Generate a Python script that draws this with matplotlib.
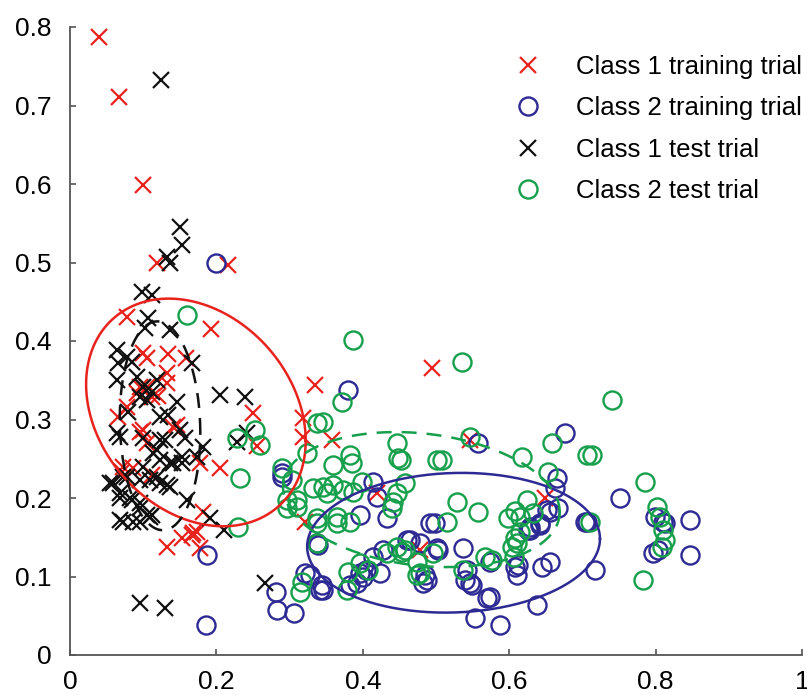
import numpy as np
import matplotlib
matplotlib.use("Agg")
import matplotlib.pyplot as plt

plt.rcParams['font.family'] = ['Liberation Sans', 'DejaVu Sans']

# Class 1 training trials (red x)
class1_train = [
    (0.040, 0.787), (0.067, 0.711), (0.100, 0.599), (0.119, 0.499), (0.216, 0.497),
    (0.078, 0.431), (0.192, 0.415), (0.100, 0.385), (0.105, 0.378), (0.134, 0.383),
    (0.158, 0.378), (0.132, 0.346), (0.335, 0.344), (0.250, 0.308), (0.318, 0.302),
    (0.318, 0.278), (0.255, 0.266), (0.205, 0.238), (0.066, 0.303), (0.096, 0.284),
    (0.141, 0.290), (0.105, 0.270), (0.178, 0.245), (0.073, 0.240), (0.105, 0.341),
    (0.112, 0.329), (0.091, 0.334), (0.495, 0.366), (0.358, 0.274), (0.546, 0.274),
    (0.419, 0.206), (0.321, 0.169), (0.182, 0.182), (0.168, 0.155), (0.086, 0.238),
    (0.112, 0.229), (0.132, 0.138), (0.153, 0.149), (0.167, 0.153), (0.173, 0.157),
    (0.178, 0.136), (0.649, 0.200), (0.478, 0.134), (0.132, 0.359), (0.096, 0.341),
    (0.078, 0.316), (0.146, 0.293), (0.100, 0.287), (0.120, 0.330), (0.071, 0.233),
]

# Class 2 training trials (blue o)
class2_train = [
    (0.200, 0.499), (0.290, 0.232), (0.380, 0.338), (0.290, 0.227), (0.414, 0.220),
    (0.419, 0.201), (0.396, 0.178), (0.433, 0.174), (0.492, 0.168), (0.499, 0.168),
    (0.557, 0.270), (0.676, 0.283), (0.665, 0.225), (0.663, 0.213), (0.667, 0.187),
    (0.651, 0.185), (0.642, 0.168), (0.628, 0.159), (0.703, 0.169), (0.751, 0.200),
    (0.799, 0.176), (0.810, 0.169), (0.847, 0.172), (0.813, 0.168), (0.797, 0.130),
    (0.803, 0.134), (0.847, 0.127), (0.717, 0.108), (0.656, 0.182), (0.642, 0.166),
    (0.626, 0.159), (0.656, 0.119), (0.645, 0.112), (0.612, 0.115), (0.611, 0.102),
    (0.638, 0.064), (0.574, 0.074), (0.587, 0.038), (0.553, 0.047), (0.549, 0.089),
    (0.540, 0.096), (0.537, 0.136), (0.574, 0.119), (0.464, 0.146), (0.503, 0.134),
    (0.485, 0.102), (0.482, 0.092), (0.478, 0.143), (0.187, 0.127), (0.186, 0.038),
    (0.281, 0.080), (0.283, 0.057), (0.306, 0.054), (0.344, 0.089), (0.346, 0.083),
    (0.337, 0.143), (0.328, 0.102), (0.392, 0.092), (0.400, 0.099), (0.405, 0.108),
    (0.414, 0.125), (0.460, 0.146), (0.428, 0.134), (0.339, 0.140), (0.321, 0.104),
    (0.342, 0.083), (0.383, 0.089), (0.396, 0.104), (0.423, 0.104), (0.488, 0.096),
    (0.501, 0.136), (0.542, 0.108), (0.546, 0.092), (0.570, 0.072), (0.608, 0.112),
    (0.628, 0.163), (0.706, 0.169),
]

# Class 1 test trials (black x)
class1_test = [
    (0.124, 0.732), (0.150, 0.545), (0.153, 0.522), (0.137, 0.499), (0.132, 0.507),
    (0.098, 0.462), (0.112, 0.459), (0.107, 0.429), (0.102, 0.417), (0.137, 0.414),
    (0.064, 0.389), (0.078, 0.380), (0.085, 0.373), (0.066, 0.372), (0.167, 0.372),
    (0.064, 0.350), (0.091, 0.354), (0.119, 0.350), (0.100, 0.341), (0.096, 0.329),
    (0.112, 0.335), (0.105, 0.325), (0.205, 0.331), (0.239, 0.329), (0.146, 0.322),
    (0.079, 0.310), (0.123, 0.303), (0.134, 0.306), (0.064, 0.283), (0.068, 0.278),
    (0.100, 0.276), (0.150, 0.287), (0.157, 0.276), (0.182, 0.265), (0.228, 0.271),
    (0.242, 0.283), (0.130, 0.274), (0.119, 0.261), (0.153, 0.252), (0.141, 0.245),
    (0.123, 0.248), (0.072, 0.227), (0.059, 0.219), (0.078, 0.227), (0.096, 0.223),
    (0.119, 0.227), (0.132, 0.217), (0.153, 0.245), (0.068, 0.200), (0.085, 0.197),
    (0.096, 0.187), (0.105, 0.178), (0.072, 0.169), (0.086, 0.169), (0.096, 0.169),
    (0.112, 0.178), (0.160, 0.197), (0.191, 0.175), (0.210, 0.159), (0.266, 0.092),
    (0.096, 0.066), (0.130, 0.060), (0.113, 0.257), (0.100, 0.240), (0.109, 0.223),
    (0.123, 0.219), (0.137, 0.214), (0.068, 0.206), (0.082, 0.200), (0.096, 0.194),
    (0.068, 0.172), (0.109, 0.176), (0.173, 0.252), (0.137, 0.245), (0.123, 0.274),
    (0.055, 0.219),
]

# Class 2 test trials (green o)
class2_test = [
    (0.160, 0.433), (0.228, 0.276), (0.253, 0.287), (0.260, 0.268), (0.324, 0.257),
    (0.337, 0.296), (0.232, 0.225), (0.387, 0.401), (0.536, 0.373), (0.372, 0.322),
    (0.346, 0.297), (0.303, 0.223), (0.359, 0.242), (0.383, 0.255), (0.385, 0.245),
    (0.447, 0.270), (0.448, 0.251), (0.452, 0.248), (0.501, 0.248), (0.508, 0.248),
    (0.546, 0.278), (0.332, 0.213), (0.346, 0.214), (0.359, 0.217), (0.351, 0.207),
    (0.373, 0.210), (0.387, 0.208), (0.399, 0.220), (0.296, 0.197), (0.310, 0.197),
    (0.310, 0.188), (0.297, 0.187), (0.337, 0.175), (0.365, 0.176), (0.383, 0.169),
    (0.441, 0.195), (0.447, 0.206), (0.458, 0.219), (0.440, 0.187), (0.529, 0.195),
    (0.557, 0.182), (0.515, 0.169), (0.230, 0.163), (0.337, 0.143), (0.317, 0.093),
    (0.314, 0.080), (0.380, 0.106), (0.378, 0.083), (0.396, 0.117), (0.407, 0.108),
    (0.433, 0.130), (0.447, 0.138), (0.453, 0.131), (0.474, 0.118), (0.478, 0.104),
    (0.496, 0.130), (0.337, 0.168), (0.365, 0.168), (0.658, 0.270), (0.706, 0.255),
    (0.617, 0.252), (0.653, 0.233), (0.624, 0.197), (0.598, 0.175), (0.615, 0.176),
    (0.615, 0.157), (0.611, 0.143), (0.604, 0.138), (0.567, 0.125), (0.576, 0.121),
    (0.537, 0.108), (0.740, 0.325), (0.713, 0.255), (0.786, 0.220), (0.802, 0.189),
    (0.806, 0.176), (0.810, 0.159), (0.813, 0.146), (0.809, 0.138), (0.783, 0.096),
    (0.710, 0.169), (0.608, 0.183), (0.633, 0.181), (0.608, 0.149), (0.607, 0.125),
    (0.474, 0.102), (0.457, 0.134), (0.290, 0.238),
]

# covariance ellipses: center x, center y, half-width x, half-height y, cross term
ell_class1_train = (0.172, 0.309, 0.150, 0.145, -0.0054)
ell_class1_test = (0.123, 0.292, 0.055, 0.133, -0.0005)
ell_class2_train = (0.524, 0.143, 0.200, 0.089, 0.0010)
ell_class2_test = (0.480, 0.198, 0.189, 0.086, -0.0030)

labels = ['Class 1 training trial', 'Class 2 training trial',
          'Class 1 test trial', 'Class 2 test trial']

RED = '#e8221c'
BLUE = '#2e2a94'
BLACK = '#111111'
GREEN = '#16a04c'


def ellipse_xy(params):
    cx, cy, sx, sy, cxy = params
    l11 = sx
    l21 = cxy / sx
    l22 = np.sqrt(sy ** 2 - l21 ** 2)
    t = np.linspace(0, 2 * np.pi, 300)
    return cx + l11 * np.cos(t), cy + l21 * np.cos(t) + l22 * np.sin(t)


fig = plt.figure(figsize=(8.07, 6.95), dpi=100)
ax = fig.add_axes([70 / 807, 40 / 695, 732 / 807, 628 / 695])

c1r = np.array(class1_train)
c2r = np.array(class2_train)
c1t = np.array(class1_test)
c2t = np.array(class2_test)

ax.plot(c1r[:, 0], c1r[:, 1], 'x', color=RED, ms=11, mew=1.6, label=labels[0])
ax.plot(c2r[:, 0], c2r[:, 1], 'o', mfc='none', mec=BLUE, ms=13, mew=1.7, label=labels[1])
ax.plot(c1t[:, 0], c1t[:, 1], 'x', color=BLACK, ms=11, mew=1.6, label=labels[2])
ax.plot(c2t[:, 0], c2t[:, 1], 'o', mfc='none', mec=GREEN, ms=13, mew=1.7, label=labels[3])

ex, ey = ellipse_xy(ell_class1_train)
ax.plot(ex, ey, '-', color=RED, lw=1.8)
ex, ey = ellipse_xy(ell_class1_test)
ax.plot(ex, ey, '--', color=BLACK, lw=1.8, dashes=(6, 4))
ex, ey = ellipse_xy(ell_class2_train)
ax.plot(ex, ey, '-', color=BLUE, lw=1.8)
ex, ey = ellipse_xy(ell_class2_test)
ax.plot(ex, ey, '--', color=GREEN, lw=1.8, dashes=(6, 4))

ax.set_xlim(0, 1)
ax.set_ylim(0, 0.8)
ax.set_xticks([0, 0.2, 0.4, 0.6, 0.8, 1])
ax.set_xticklabels(['0', '0.2', '0.4', '0.6', '0.8', '1'])
ax.set_yticks([0, 0.1, 0.2, 0.3, 0.4, 0.5, 0.6, 0.7, 0.8])
ax.set_yticklabels(['0', '0.1', '0.2', '0.3', '0.4', '0.5', '0.6', '0.7', '0.8'])
ax.spines['top'].set_visible(False)
ax.spines['right'].set_visible(False)
for s in ['left', 'bottom']:
    ax.spines[s].set_color('#555555')
    ax.spines[s].set_linewidth(1.3)
ax.tick_params(direction='in', length=4, width=1.2, color='#555555', labelsize=19)
ax.tick_params(axis='y', pad=13)
ax.tick_params(axis='x', pad=11)

ax.legend(loc='upper left', bbox_to_anchor=(513 / 807, 1 - 55 / 695),
          bbox_transform=fig.transFigure, frameon=False, fontsize=18.5,
          handlelength=1.2, handletextpad=1.25, labelspacing=0.68,
          borderpad=0, borderaxespad=0)

fig.savefig('out.png', dpi=100)
